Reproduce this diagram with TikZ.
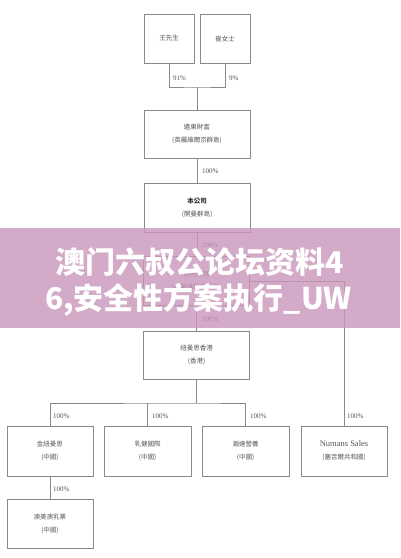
\documentclass[tikz,border=0pt]{standalone}
\usepackage{fontspec}
\setmainfont{Liberation Serif}
\newfontfamily\cjk{Noto Sans CJK TC}
\newfontfamily\bannerfont{Noto Sans CJK SC}
\definecolor{linegray}{RGB}{138,138,138}
\definecolor{txtgray}{RGB}{85,85,85}
\definecolor{bannerpink}{RGB}{201,149,186}
\begin{document}
\begin{tikzpicture}[x=1pt,y=-1pt,
  box/.style={draw=linegray, line width=0.7pt, fill=white, align=center, inner sep=0pt,
    text=txtgray, font=\cjk\fontsize{6.5}{13}\selectfont},
  boxw/.style={box, minimum width=106pt, minimum height=48pt},
  boxs/.style={box, minimum width=86pt, minimum height=50pt},
  boxt/.style={box, minimum width=50pt, minimum height=49pt},
  conn/.style={draw=linegray, line width=0.7pt},
  pct/.style={anchor=west, inner sep=0pt, text=txtgray, font=\fontsize{7}{8}\selectfont},
  bantext/.style={text=white, inner sep=0pt, font=\bannerfont\bfseries\fontsize{30}{32}\selectfont}]
\useasboundingbox (0,0) rectangle (400,558);
\fill[white] (0,0) rectangle (400,558);
% top owners
\node[boxt] (wang) at (169,38.5) {王先生};
\node[boxt] (cui) at (225,38.5) {崔女士};
\coordinate (j1) at (197,87);
\draw[conn] (wang.south) |- (j1) -| (cui.south);
\node[pct] (p91) at (173,78) {91\%};
\node[pct] (p9) at (229,78) {9\%};
% chain
\node[boxw] (yd) at (197,134) {遠東財富\\(英屬維爾京群島)};
\node[boxw, minimum height=49pt] (bgs) at (197,207.5) {\textcolor{black!80}{\bfseries 本公司}\\(開曼群島)};
\node[boxw, minimum height=49pt] (hs) at (196.5,281) {滙思管理\\(英屬維爾京群島)};
\node[boxw] (nm) at (196.5,355) {紐曼思香港\\(香港)};
\draw[conn] (j1) -- (yd.north);
\draw[conn] (yd.south) -- (yd.south |- bgs.north);
\draw[conn] (bgs.south) -- (bgs.south |- hs.north);
\draw[conn] (hs.south) -- (nm.north);
\node[pct] (p1) at (202,171) {100\%};
\node[pct] (p2) at (202,245) {100\%};
\node[pct] (p3) at (202,319) {100\%};
% bottom row
\node[boxs] (jn) at (50,451) {金紐曼思\\(中國)};
\node[boxs, minimum width=87pt] (rj) at (147.5,451) {乳健國際\\(中國)};
\node[boxs, minimum width=87pt] (hd) at (245.5,451) {瀚達營養\\(中國)};
\node[boxs] (ns) at (344,451) {{\fontspec{Liberation Serif}\fontsize{8.5}{10}\selectfont Numans Sales}\\(塞舌爾共和國)};
\node[boxs, minimum height=49pt] (am) at (50,523.5) {澳美澳乳業\\(中國)};
\coordinate (bus) at (196.5,403);
\draw[conn] (nm.south) -- (bus);
\draw[conn] (jn.north) |- (bus) -| (hd.north);
\draw[conn] (rj.north) -- (rj.north |- bus);
\draw[conn] (hs.east) -| (ns.north);
\draw[conn] (jn.south) -- (am.north);
\node[pct] (p4) at (53,416) {100\%};
\node[pct] (p5) at (152,416) {100\%};
\node[pct] (p6) at (250,416) {100\%};
\node[pct] (p7) at (347,416) {100\%};
\node[pct] (p8) at (53,489) {100\%};
% banner
\fill[bannerpink, fill opacity=0.8] (0,228) rectangle (400,328);
\node[bantext] (b1) at (200,262) {澳门六叔公论坛资料4};
\node[bantext] (b2) at (198.5,300) {6,安全性方案执行\_UW};
\end{tikzpicture}
\end{document}
